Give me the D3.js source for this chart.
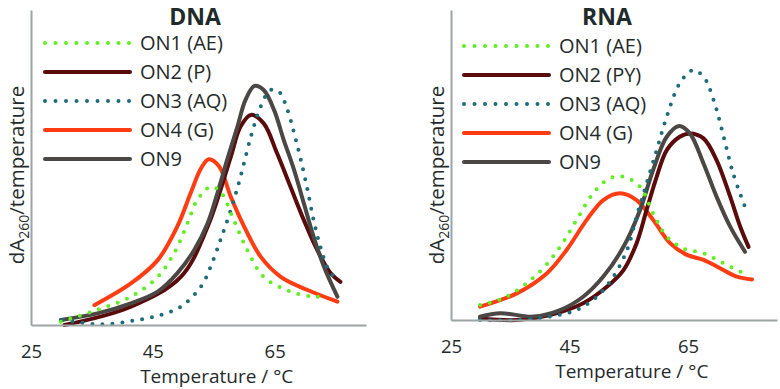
<!DOCTYPE html>
<html>
<head>
<meta charset="utf-8">
<script src="https://cdn.jsdelivr.net/npm/d3@7"></script>
<style>
  body { margin: 0; background: #fff; }
  svg { display: block; font-family: "Open Sans", sans-serif; }
</style>
</head>
<body>
<svg id="chart" width="780" height="389"></svg>
<script>
// series names / styles
var names = ["ON1 (AE)", "ON2 (P)", "ON3 (AQ)", "ON4 (G)", "ON9"];
var namesRna = ["ON1 (AE)", "ON2 (PY)", "ON3 (AQ)", "ON4 (G)", "ON9"];
var colors = ["#5fef1f", "#5a0b0b", "#1d6c7b", "#ff3c12", "#4a4744"];
var dotted = [true, false, true, false, false];
var tickVals = [25, 45, 65];

// DNA panel, [temperature, dA260/T (arb.)]
var dnaOn1 = [[29.9,1.0],[35.9,4.8],[41.4,9.0],[45.8,15.3],[48.5,22.8],[50.7,32.3],[52.3,39.7],[54.5,43.9],[56.1,42.3],[58.3,33.3],[60.5,23.8],[63.2,15.3],[67.6,10.6],[71.4,9.0],[73.4,9.0]];
var dnaOn2 = [[30.5,0],[41.4,5.8],[49.6,15.3],[54.0,31.2],[57.8,53.4],[59.4,63.0],[61.1,66.7],[63.2,64.0],[65.4,54.5],[67.6,43.9],[69.8,33.3],[72.0,23.8],[74.2,16.4],[75.8,13.7]];
var dnaOn3 = [[30.2,1.6],[36.5,0.2],[41.9,1.4],[46.3,3.2],[49.6,5.8],[52.9,12.2],[54.5,18.5],[56.1,27.0],[57.8,36.5],[59.4,47.1],[61.1,59.8],[62.7,69.3],[64.3,74.6],[65.7,74.1],[67.1,68.3],[68.2,60.9],[69.3,52.4],[70.4,42.9],[71.4,33.3],[72.5,24.9],[73.6,18.5],[74.5,15.9]];
var dnaOn4 = [[35.4,6.3],[41.4,13.2],[45.8,20.6],[49.0,31.2],[51.2,41.8],[52.9,49.7],[54.2,52.6],[55.9,50.3],[57.8,40.7],[60.0,31.2],[62.7,21.7],[66.0,15.3],[70.4,11.1],[75.3,7.4]];
var dnaOn9 = [[29.9,1.6],[35.9,3.7],[41.4,6.9],[45.8,10.6],[49.0,16.4],[51.8,23.8],[54.0,32.3],[55.6,41.8],[57.2,52.4],[58.9,63.0],[60.2,71.4],[61.7,75.9],[63.2,74.6],[64.9,68.3],[66.5,58.7],[68.2,49.2],[69.8,38.6],[71.4,28.0],[73.1,18.5],[75.3,9.0]];

// RNA panel
var rnaOn1 = [[29.9,4.8],[34.4,7.5],[40.0,15.6],[43.4,23.6],[46.2,32.3],[49.0,40.9],[51.8,45.7],[54.1,46.2],[56.9,43.0],[59.1,34.4],[61.4,26.9],[64.2,23.1],[67.6,21.5],[71.0,18.3],[74.3,15.1]];
var rnaOn2 = [[29.9,0.5],[36.1,0],[41.7,1.6],[47.3,5.4],[51.3,10.7],[54.1,16.1],[56.3,24.7],[58.0,35.5],[59.7,46.2],[61.4,54.8],[63.6,59.1],[65.3,60.2],[67.6,58.6],[69.8,51.6],[72.1,39.8],[73.8,30.1],[75.2,23.6]];
var rnaOn3 = [[29.9,0],[36.1,0],[41.7,1.1],[46.2,3.2],[49.6,7.5],[52.4,14.0],[54.7,22.6],[56.3,33.3],[58.0,44.1],[59.7,54.8],[61.4,65.6],[63.6,76.4],[65.8,80.6],[67.6,78.5],[69.3,71.0],[71.0,59.1],[72.6,47.3],[74.6,36.5]];
var rnaOn4 = [[29.9,4.3],[36.1,8.6],[41.2,15.1],[44.5,22.6],[47.9,32.3],[50.7,38.7],[53.5,40.9],[56.3,38.7],[59.1,32.3],[62.0,24.7],[64.8,21.0],[67.6,19.4],[70.4,16.7],[73.2,14.0],[75.8,13.1]];
var rnaOn9 = [[29.9,1.1],[33.3,2.2],[38.9,1.1],[43.4,3.2],[47.3,7.5],[50.7,14.0],[54.1,23.6],[56.9,35.5],[59.1,48.4],[61.4,59.1],[63.5,62.6],[65.3,60.2],[67.6,50.5],[69.8,39.8],[72.1,30.1],[74.6,22.0]];

var svg = d3.select("#chart");
var axisColor = "#9ea3a3";
var textColor = "#1f2b2b";

function drawPanel(cfg) {
  var x = d3.scaleLinear().domain([25, 80]).range([cfg.x0, cfg.x1]);
  var y = d3.scaleLinear().domain([0, 100]).range([cfg.y0, 10]);
  var g = svg.append("g");

  var line = d3.line()
      .x(function(d){ return x(d[0]); })
      .y(function(d){ return y(d[1]); })
      .curve(d3.curveCatmullRom.alpha(0.5));

  // draw order, last on top
  var order = [3, 1, 4, 2, 0];
  order.forEach(function(i){
    g.append("path")
      .attr("d", line(cfg.series[i]))
      .attr("fill", "none")
      .attr("stroke", colors[i])
      .attr("stroke-width", 4)
      .attr("stroke-linecap", "round")
      .attr("stroke-dasharray", dotted[i] ? "0 10" : null);
  });

  // axes
  var xAxis = g.append("g")
      .attr("transform", "translate(0," + cfg.y0 + ")")
      .call(d3.axisBottom(x).tickValues(tickVals).tickSize(0).tickPadding(20));
  xAxis.select(".domain").attr("stroke", axisColor).attr("stroke-width", 2);
  xAxis.selectAll("text").attr("fill", textColor).style("font-size", "18.5px")
      .style("font-family", "'Open Sans', sans-serif");

  var yAxis = g.append("g")
      .attr("transform", "translate(" + cfg.x0 + ",0)")
      .call(d3.axisLeft(y).tickValues([]).tickSizeOuter(0));
  yAxis.select(".domain").attr("stroke", axisColor).attr("stroke-width", 2);

  // x title
  g.append("text")
    .attr("x", (x(45) + x(65)) / 2 + 3)
    .attr("y", cfg.y0 + 58)
    .attr("text-anchor", "middle")
    .attr("fill", textColor)
    .style("font-size", "19px")
    .text("Temperature / \u00B0C");

  // y title
  var yt = g.append("text")
    .attr("transform", "translate(" + (cfg.x0 - 7) + "," + 175 + ") rotate(-90)")
    .attr("text-anchor", "middle")
    .attr("fill", textColor)
    .style("font-size", "20.5px");
  yt.append("tspan").text("dA");
  yt.append("tspan").attr("dy", 5).style("font-size", "14px").text("260");
  yt.append("tspan").attr("dy", -5).text("/temperature");

  // panel title
  g.append("text")
    .attr("x", cfg.titleX)
    .attr("y", 25)
    .attr("text-anchor", "middle")
    .attr("fill", textColor)
    .style("font-size", "23px")
    .style("font-weight", "bold")
    .text(cfg.title);

  // legend
  cfg.labels.forEach(function(lab, i){
    var ly = cfg.legY + i * 29;
    g.append("line")
      .attr("x1", cfg.legX).attr("x2", cfg.legX + 85)
      .attr("y1", ly).attr("y2", ly)
      .attr("stroke", colors[i])
      .attr("stroke-width", 4)
      .attr("stroke-linecap", "round")
      .attr("stroke-dasharray", dotted[i] ? "0 10.5" : null);
    g.append("text")
      .attr("x", cfg.legX + 95)
      .attr("y", ly)
      .attr("dy", "0.35em")
      .attr("fill", textColor)
      .style("font-size", "20px")
      .text(lab);
  });
}

drawPanel({
  x0: 31, x1: 366, y0: 325, title: "DNA", titleX: 195,
  legX: 45, legY: 43, labels: names,
  series: [dnaOn1, dnaOn2, dnaOn3, dnaOn4, dnaOn9]
});
drawPanel({
  x0: 451, x1: 777, y0: 320, title: "RNA", titleX: 607,
  legX: 464, legY: 46, labels: namesRna,
  series: [rnaOn1, rnaOn2, rnaOn3, rnaOn4, rnaOn9]
});
</script>
</body>
</html>
